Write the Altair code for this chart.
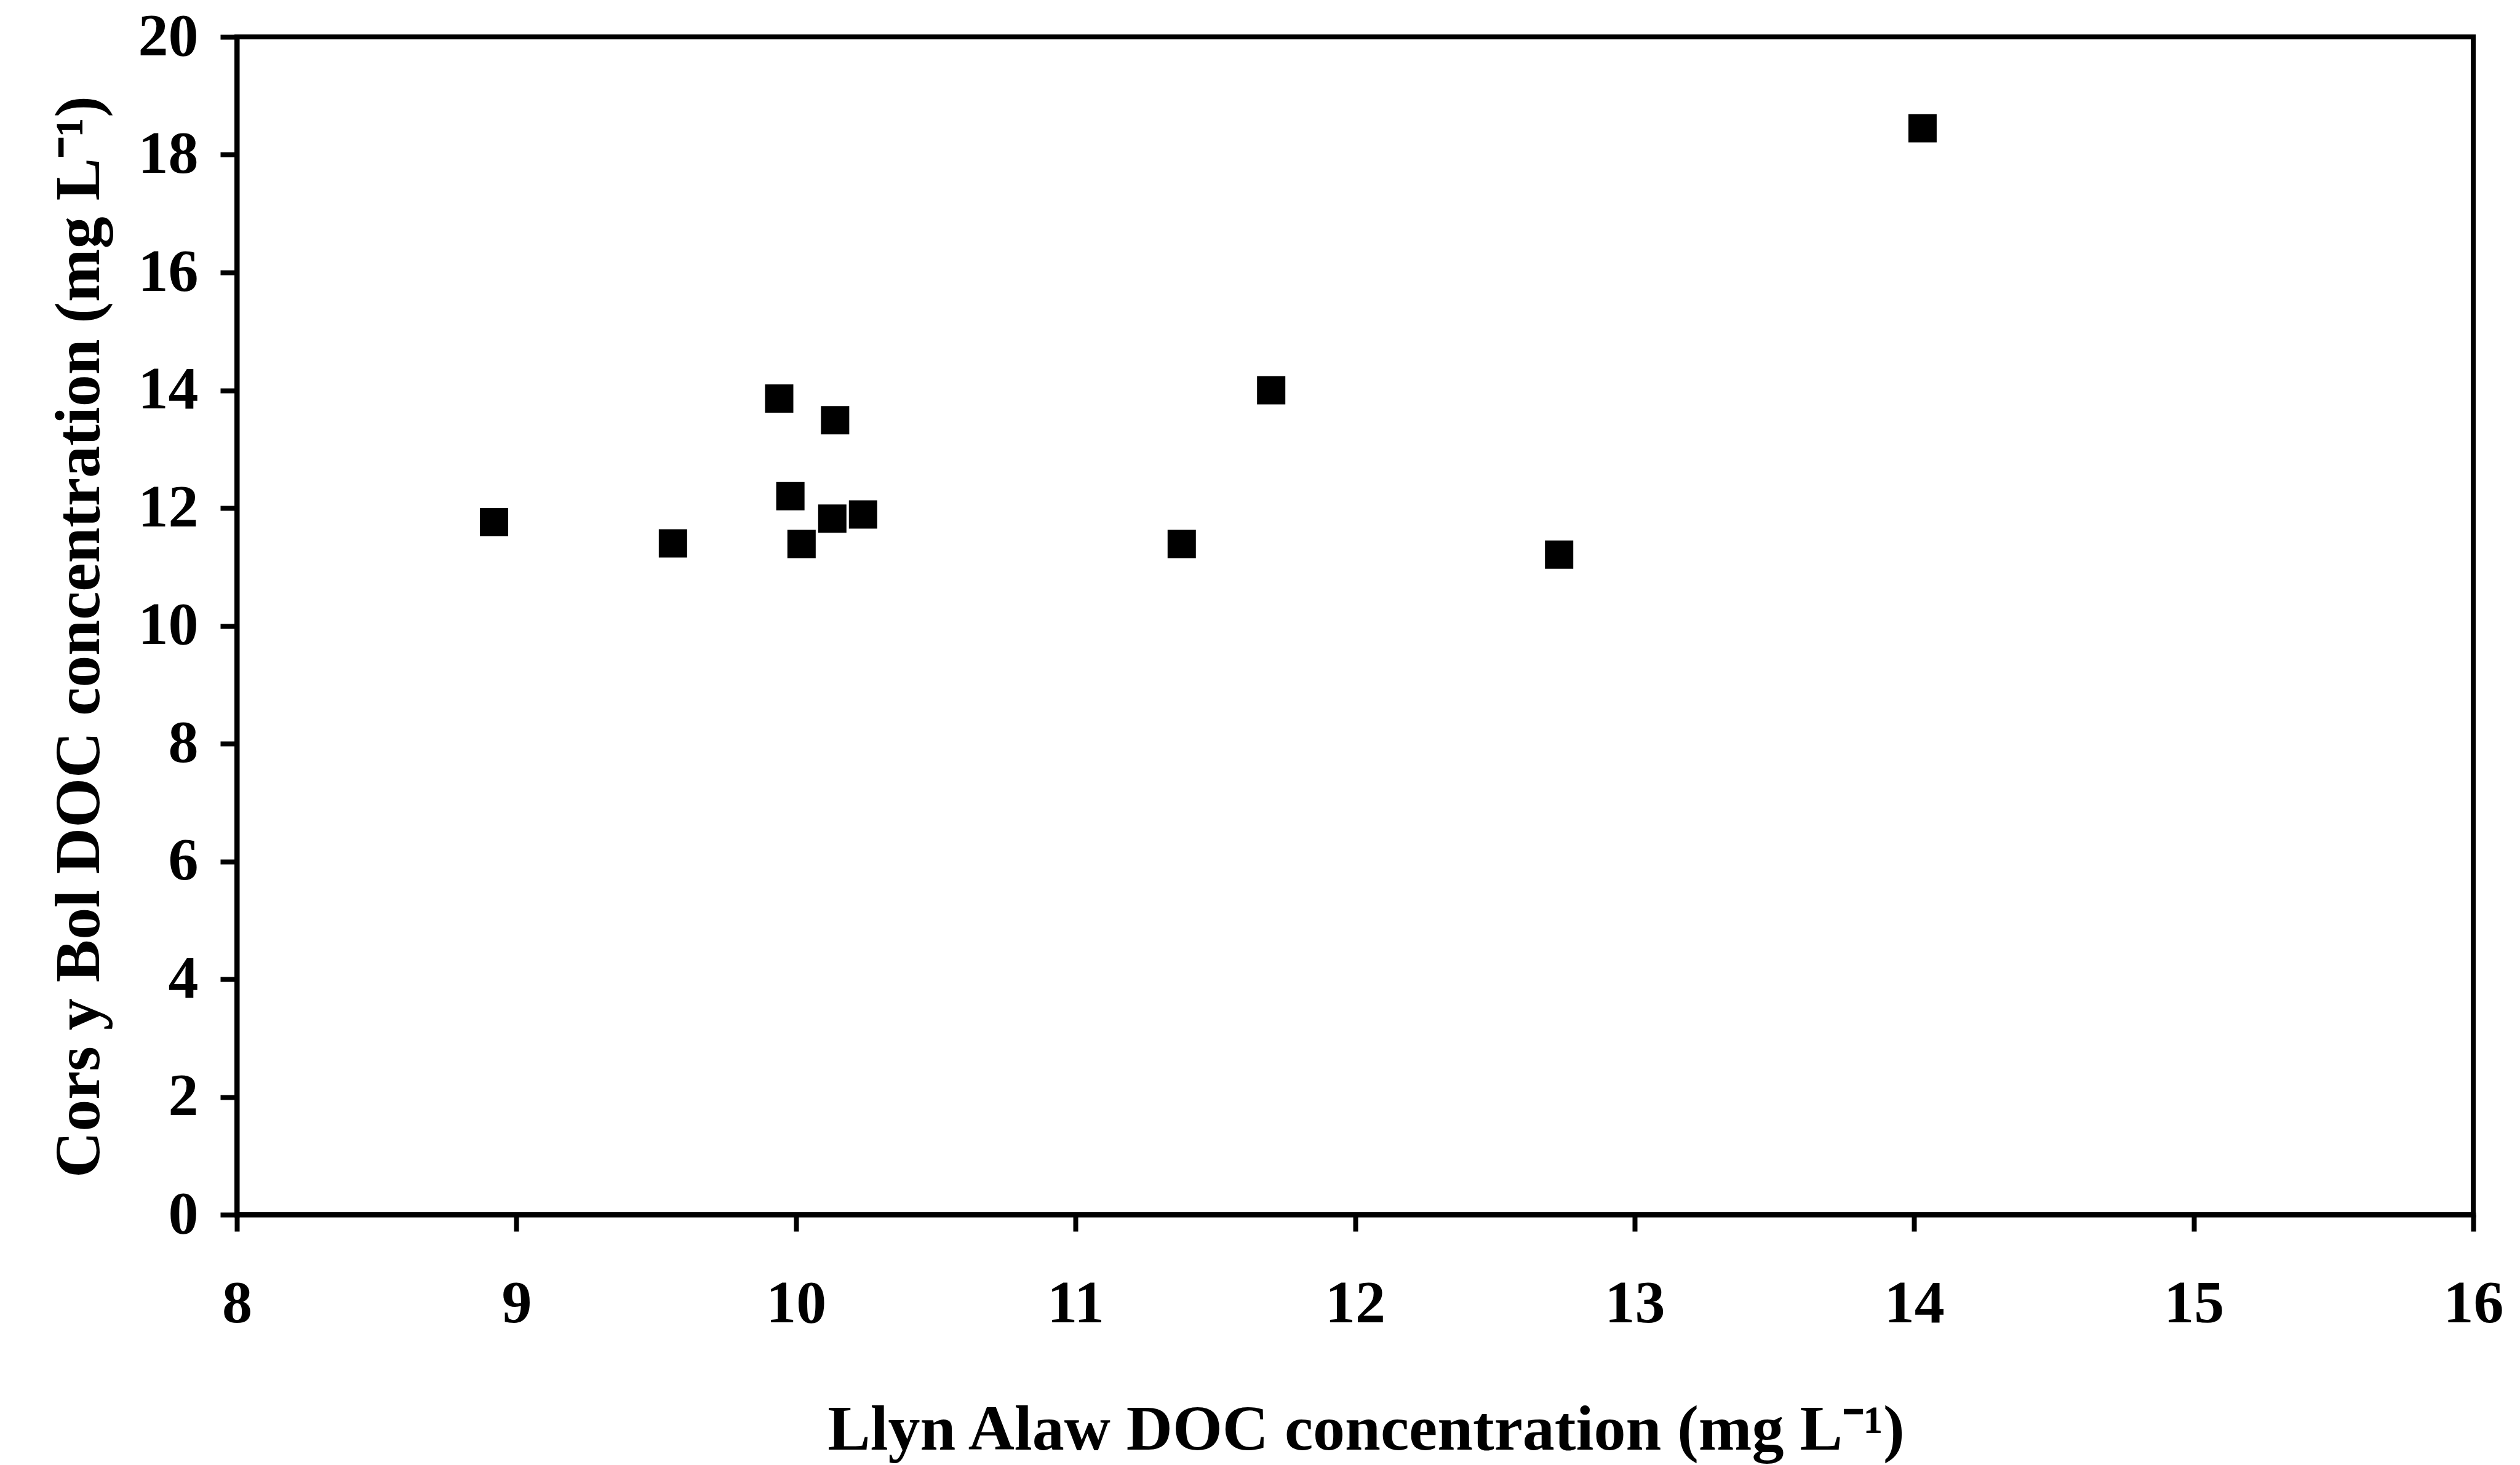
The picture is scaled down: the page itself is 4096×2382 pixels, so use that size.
import altair as alt
import pandas as pd

# Data
llyn_alaw = [8.92, 9.56, 9.94, 9.98, 10.02, 10.13, 10.14, 10.24, 11.38, 11.70, 12.73, 14.03]
cors_y_bol = [11.76, 11.40, 13.86, 12.20, 11.39, 11.82, 13.49, 11.89, 11.39, 14.00, 11.21, 18.45]
x_ticks = [8, 9, 10, 11, 12, 13, 14, 15, 16]
y_ticks = [0, 2, 4, 6, 8, 10, 12, 14, 16, 18, 20]
x_title = "Llyn Alaw DOC concentration (mg L\u207b\u00b9)"
y_title = "Cors y Bol DOC concentration (mg L\u207b\u00b9)"

df = pd.DataFrame({"x": llyn_alaw, "y": cors_y_bol})

W, H = 3635, 1915
FONT = "Liberation Serif"

common_axis = dict(
    grid=False,
    domainColor="black",
    domainWidth=8,
    domainCap="square",
    tickColor="black",
    tickWidth=8,
    tickSize=27,
    labelFont=FONT,
    labelFontSize=98,
    labelFontWeight="bold",
    labelColor="black",
    labelOverlap=False,
    labelFlush=False,
    titleFont=FONT,
    titleFontSize=104,
    titleFontWeight="bold",
    titleColor="black",
    titleBaseline="alphabetic",
    titleAlign="center",
)

chart = (
    alt.Chart(df)
    .mark_point(shape="square", filled=True, size=2116, color="black", opacity=1)
    .encode(
        x=alt.X(
            "x:Q",
            scale=alt.Scale(domain=[8, 16], nice=False, zero=False),
            axis=alt.Axis(values=x_ticks, title=x_title, labelPadding=70,
                          titleX=1835, titleY=381, **common_axis),
        ),
        y=alt.Y(
            "y:Q",
            scale=alt.Scale(domain=[0, 20], nice=False, zero=False),
            axis=alt.Axis(values=y_ticks, title=y_title, labelPadding=36,
                          titleX=-225, titleY=975, titleAngle=270, **common_axis),
        ),
    )
    .properties(
        width=W,
        height=H,
        autosize=alt.AutoSizeParams(type="none"),
        padding={"left": 385, "top": 60, "right": 76, "bottom": 407},
        background="white",
    )
    .configure_view(stroke="black", strokeWidth=8)
)

chart.save("out.html", embed_options={"renderer": "svg", "actions": False})
